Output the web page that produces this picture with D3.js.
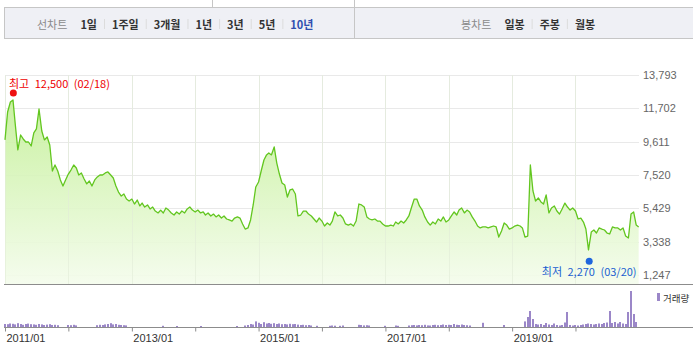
<!DOCTYPE html>
<html>
<head>
<meta charset="utf-8">
<script src="https://cdn.jsdelivr.net/npm/d3@7"></script>
<style>
  body { margin: 0; background: #fff; }
  svg { display: block; }
</style>
</head>
<body>
<div id="graph"></div>
<script>
// Closing prices, two readings a month (1st and 16th)
var closes2011 = [9720, 11470, 12100, 12230, 10720, 9090, 10030, 9780, 9590, 9590, 9340, 10160,
                  10410, 11660, 10280, 9720, 9900, 9400, 7770, 8150, 7770, 7210, 6830, 7210];
var closes2012 = [7580, 7830, 8150, 7960, 7520, 7650, 7270, 6960, 7140, 6830, 7210, 7400,
                  7520, 7520, 7650, 7710, 7520, 7330, 6830, 6450, 6200, 6330, 6010, 5890];
var closes2013 = [6010, 5700, 5950, 5580, 5760, 5510, 5640, 5390, 5510, 5260, 5140, 5320,
                  5140, 5450, 5320, 5140, 5010, 5200, 5070, 5260, 5140, 5390, 5510, 5320];
var closes2014 = [5200, 5320, 5140, 5200, 5010, 5140, 4950, 5070, 4890, 5010, 4820, 4950,
                  4760, 4700, 4630, 4820, 4890, 4820, 4450, 4130, 4200, 4700, 5640, 6770];
var closes2015 = [7080, 7770, 8460, 8780, 8900, 8780, 9280, 8270, 7580, 7020, 6890, 6140,
                  6580, 6640, 6330, 4950, 5010, 5260, 5260, 5070, 4950, 4760, 4570, 4820];
var closes2016 = [4630, 4320, 4510, 4380, 4630, 5200, 4950, 5010, 4820, 4450, 4380, 4450,
                  4320, 4630, 5700, 5640, 5510, 4890, 4760, 4700, 4760, 4630, 4630, 4450];
var closes2017 = [4320, 4320, 4380, 4320, 4570, 4450, 4630, 4510, 4700, 4950, 5510, 6010,
                  6010, 5580, 5320, 4890, 4570, 4380, 4570, 4450, 4760, 4630, 4890, 4570];
var closes2018 = [4700, 4950, 5200, 5010, 5320, 5450, 5140, 5320, 5200, 4890, 4630, 4320,
                  4200, 4260, 4260, 4200, 4260, 4320, 4260, 3630, 4010, 4510, 4380, 4130];
var closes2019 = [4200, 4320, 4380, 4320, 4200, 3630, 3690, 8150, 6520, 5890, 6080, 5830,
                  5700, 6270, 5140, 5450, 5580, 5260, 5070, 5390, 5760, 5510, 5320, 5450];
// 2020 has one extra reading: the year-end close
var closes2020 = [5260, 4760, 4820, 4570, 4130, 2820, 3940, 4070, 3880, 4200, 4130, 4070,
                  3880, 3820, 4260, 4200, 4200, 4070, 4200, 3690, 3570, 5070, 5200, 4380, 4260];

// Traded volume on the same dates (thousands of shares)
var volumes2011 = [300, 280, 350, 320, 260, 380, 300, 220, 300, 340, 280, 260,
                   220, 300, 260, 200, 240, 280, 200, 220, 180, 0, 0, 0];
var volumes2012 = [200, 180, 220, 160, 0, 0, 0, 0, 0, 0, 0, 180,
                   220, 200, 260, 300, 380, 260, 300, 220, 200, 180, 160, 0];
var volumes2013 = [0, 0, 0, 0, 0, 0, 0, 0, 0, 0, 0, 0,
                   120, 0, 0, 0, 0, 100, 0, 0, 0, 0, 0, 0];
var volumes2014 = [0, 0, 100, 0, 0, 0, 0, 0, 0, 0, 0, 0,
                   0, 0, 0, 0, 100, 0, 0, 150, 200, 300, 250, 560];
var volumes2015 = [420, 300, 480, 350, 400, 320, 380, 300, 350, 280, 300, 260,
                   320, 280, 300, 240, 200, 220, 180, 200, 150, 0, 120, 0];
var volumes2016 = [0, 0, 0, 120, 150, 130, 0, 120, 150, 0, 0, 0,
                   0, 0, 220, 200, 160, 180, 150, 0, 0, 0, 0, 0];
var volumes2017 = [120, 0, 0, 0, 150, 120, 0, 0, 0, 150, 180, 200,
                   160, 200, 180, 220, 160, 150, 200, 220, 180, 200, 250, 200];
var volumes2018 = [220, 200, 300, 220, 200, 250, 200, 180, 150, 0, 0, 0,
                   0, 420, 0, 0, 0, 0, 0, 0, 0, 200, 0, 0];
var volumes2019 = [0, 0, 0, 0, 0, 560, 1000, 1600, 800, 300, 250, 300,
                   200, 400, 250, 200, 350, 200, 150, 200, 450, 1500, 200, 150];
var volumes2020 = [200, 150, 200, 250, 300, 350, 300, 250, 300, 350, 300, 400,
                   450, 1600, 400, 500, 350, 500, 350, 300, 1500, 3600, 1300, 500, 0];

var years = [2011, 2012, 2013, 2014, 2015, 2016, 2017, 2018, 2019, 2020];
var priceTicks = [1247, 3338, 5429, 7520, 9611, 11702, 13793];
var yearLabels = ["2011/01", "2013/01", "2015/01", "2017/01", "2019/01"];

var periodTitle = "선차트";
var periodTabs = ["1일", "1주일", "3개월", "1년", "3년", "5년", "10년"];
var candleTitle = "봉차트";
var candleTabs = ["일봉", "주봉", "월봉"];

var highMark = {date: "2011-02-18", value: 12500, label: "최고 12,500 (02/18)"};
var lowMark = {date: "2020-03-20", value: 2270, label: "최저 2,270 (03/20)"};
var volumeLegend = "거래량";

var WIDTH = 693;
var HEIGHT = 350;
var PLOT_LEFT = 5;
var PLOT_RIGHT = 639;
var PRICE_BOTTOM = 284;
var VOLUME_BASE = 327;
var KR_FONT = "'Noto Sans CJK KR', sans-serif";
var NUM_FONT = "'Liberation Sans', Arial, sans-serif";

/**
 * Join the yearly arrays into one series of {date, close, volume}
 */
function build_series() {
  let closes = [closes2011, closes2012, closes2013, closes2014, closes2015,
                closes2016, closes2017, closes2018, closes2019, closes2020];
  let volumes = [volumes2011, volumes2012, volumes2013, volumes2014, volumes2015,
                 volumes2016, volumes2017, volumes2018, volumes2019, volumes2020];
  let series = [];
  years.forEach(function (year, yi) {
    closes[yi].forEach(function (close, i) {
      let date = i < 24 ? new Date(year, Math.floor(i / 2), i % 2 ? 16 : 1)
                        : new Date(year, 11, 30);
      series.push({date: date, close: close, volume: volumes[yi][i]});
    });
  });
  return series;
}

/**
 * Tab strip on top of the chart
 */
function draw_tabs(svg) {
  svg.append("rect")
     .attr("x", 4.5).attr("y", 7.5)
     .attr("width", 700).attr("height", 31)
     .attr("fill", "#eff0f5")
     .attr("stroke", "#c6c6c6");

  svg.append("line").attr("x1", 212.5).attr("x2", 212.5).attr("y1", 0).attr("y2", 7)
     .attr("stroke", "#c6c6c6");
  svg.append("line").attr("x1", 354.5).attr("x2", 354.5).attr("y1", 0).attr("y2", 38)
     .attr("stroke", "#c6c6c6");

  draw_tab_group(svg, 37, periodTitle, periodTabs, "10년");
  draw_tab_group(svg, 461, candleTitle, candleTabs, null);
}

function draw_tab_group(svg, start, title, tabs, active) {
  let cursor = start;
  let t = svg.append("text")
             .attr("x", cursor).attr("y", 23.5)
             .attr("dominant-baseline", "central")
             .style("font-family", KR_FONT)
             .style("font-size", "11px")
             .attr("fill", "#8a8a8a")
             .text(title);
  cursor += t.node().getComputedTextLength() + 13;

  tabs.forEach(function (tab, i) {
    if (i > 0) {
      svg.append("line")
         .attr("x1", cursor + 7.5).attr("x2", cursor + 7.5)
         .attr("y1", 19).attr("y2", 29)
         .attr("stroke", "#dcdcdc");
      cursor += 15;
    }
    let node = svg.append("text")
                  .attr("x", cursor).attr("y", 23.5)
                  .attr("dominant-baseline", "central")
                  .style("font-family", KR_FONT)
                  .style("font-size", "11px")
                  .style("font-weight", "bold")
                  .attr("fill", tab === active ? "#2f4fb0" : "#333")
                  .text(tab);
    cursor += node.node().getComputedTextLength();
  });
}

/**
 * Price area + line, volume bars, axes
 */
function create_chart() {
  let series = build_series();

  let svg = d3.select("#graph")
              .append("svg")
                .attr("width", WIDTH)
                .attr("height", HEIGHT);

  draw_tabs(svg);

  let xscale = d3.scaleTime()
                 .domain([new Date(2011, 0, 1), new Date(2021, 0, 1)])
                 .range([PLOT_LEFT, PLOT_RIGHT]);

  let yscale = d3.scaleLinear()
                 .domain([priceTicks[0], priceTicks[priceTicks.length - 1]])
                 .range([275, 75]);

  let vscale = d3.scaleLinear()
                 .domain([0, 4000])
                 .range([VOLUME_BASE, VOLUME_BASE - 40]);

  let yearTicks = xscale.ticks(d3.timeYear.every(1))
                        .filter(function (d) { return d < xscale.domain()[1]; });

  // Gradient for the area fill
  let grad = svg.append("defs").append("linearGradient")
                .attr("id", "priceFill")
                .attr("gradientUnits", "userSpaceOnUse")
                .attr("x1", 0).attr("x2", 0)
                .attr("y1", 75).attr("y2", PRICE_BOTTOM);
  grad.append("stop").attr("offset", "0%").attr("stop-color", "#bdee8c");
  grad.append("stop").attr("offset", "100%").attr("stop-color", "#f4fcec");

  // Grid
  svg.append("g").selectAll("line")
     .data(priceTicks)
     .enter().append("line")
       .attr("x1", PLOT_LEFT).attr("x2", PLOT_RIGHT)
       .attr("y1", function (d) { return Math.round(yscale(d)) + 0.5; })
       .attr("y2", function (d) { return Math.round(yscale(d)) + 0.5; })
       .attr("stroke", "#e9e9e9");

  svg.append("g").selectAll("line")
     .data(yearTicks)
     .enter().append("line")
       .attr("x1", function (d) { return Math.round(xscale(d)) + 0.5; })
       .attr("x2", function (d) { return Math.round(xscale(d)) + 0.5; })
       .attr("y1", 75).attr("y2", PRICE_BOTTOM)
       .attr("stroke", "#e9e9e9");

  // Price area and line
  let area = d3.area()
               .x(function (d) { return xscale(d.date); })
               .y0(PRICE_BOTTOM)
               .y1(function (d) { return yscale(d.close); });

  let line = d3.line()
               .x(function (d) { return xscale(d.date); })
               .y(function (d) { return yscale(d.close); });

  svg.append("path")
     .datum(series)
     .attr("d", area)
     .attr("fill", "url(#priceFill)")
     .attr("fill-opacity", 0.9);

  // vertical grid shows faintly through the fill
  svg.append("g").selectAll("line")
     .data(yearTicks)
     .enter().append("line")
       .attr("x1", function (d) { return Math.round(xscale(d)) + 0.5; })
       .attr("x2", function (d) { return Math.round(xscale(d)) + 0.5; })
       .attr("y1", 75).attr("y2", PRICE_BOTTOM)
       .attr("stroke", "#e2ecd8")
       .attr("stroke-opacity", 0.6);

  svg.append("path")
     .datum(series)
     .attr("d", line)
     .attr("fill", "none")
     .attr("stroke", "#62c61f")
     .attr("stroke-width", 1.3)
     .attr("stroke-linejoin", "round");

  // Right price axis
  let y_axis = d3.axisRight()
                 .scale(yscale)
                 .tickValues(priceTicks)
                 .tickFormat(d3.format(","))
                 .tickSize(0)
                 .tickPadding(4);

  let yAxisElements = svg.append("g")
                         .attr("transform", "translate(" + PLOT_RIGHT + ",0)")
                         .call(y_axis);
  yAxisElements.select(".domain").remove();
  yAxisElements.selectAll("text")
               .style("font-family", NUM_FONT)
               .style("font-size", "11px")
               .attr("fill", "#666");

  // High / low markers
  draw_marker(svg, xscale, yscale, highMark, "#ee1111", "#ee0000", -1);
  draw_marker(svg, xscale, yscale, lowMark, "#1f66dd", "#1a5fd0", 1);

  // Panel separator and volume base line
  svg.append("line").attr("x1", 4).attr("x2", WIDTH)
     .attr("y1", PRICE_BOTTOM + 0.5).attr("y2", PRICE_BOTTOM + 0.5)
     .attr("stroke", "#8c8c8c");

  // Volume bars
  svg.append("g").selectAll("rect")
     .data(series.filter(function (d) { return d.volume > 0; }))
     .enter().append("rect")
       .attr("x", function (d) { return Math.round(xscale(d.date)) - 1; })
       .attr("y", function (d) { return vscale(d.volume); })
       .attr("width", 2)
       .attr("height", function (d) { return VOLUME_BASE - vscale(d.volume); })
       .style("fill", "#9b87c8");

  // Volume legend
  svg.append("rect").attr("x", 657).attr("y", 293)
     .attr("width", 3).attr("height", 8)
     .style("fill", "#9b87c8");
  svg.append("text").attr("x", 663).attr("y", 297.5)
     .attr("dominant-baseline", "central")
     .style("font-family", KR_FONT)
     .style("font-size", "9.5px")
     .attr("fill", "#333")
     .text(volumeLegend);

  // Bottom date axis
  let fmt = d3.timeFormat("%Y/%m");
  let x_axis = d3.axisBottom()
                 .scale(xscale)
                 .tickValues(yearTicks)
                 .tickFormat(function (d) { return yearLabels.indexOf(fmt(d)) >= 0 ? fmt(d) : ""; })
                 .tickSize(4)
                 .tickPadding(3);

  let xAxisElements = svg.append("g")
                         .attr("transform", "translate(0," + (VOLUME_BASE + 0.5) + ")")
                         .call(x_axis);
  xAxisElements.select(".domain").remove();
  xAxisElements.selectAll("line").attr("stroke", "#8c8c8c");
  xAxisElements.selectAll("text")
               .attr("text-anchor", "start")
               .attr("x", 1)
               .style("font-family", NUM_FONT)
               .style("font-size", "11px")
               .attr("fill", "#333");

  svg.append("line").attr("x1", 4).attr("x2", WIDTH)
     .attr("y1", VOLUME_BASE + 0.5).attr("y2", VOLUME_BASE + 0.5)
     .attr("stroke", "#8c8c8c");
}

/**
 * Dot + label for the period high (dir -1, above) or low (dir 1, below)
 */
function draw_marker(svg, xscale, yscale, mark, dotColor, textColor, dir) {
  let cx = xscale(d3.timeParse("%Y-%m-%d")(mark.date));
  let cy = yscale(mark.value) + dir * 2.5;

  svg.append("circle")
     .attr("cx", cx).attr("cy", cy).attr("r", 3.5)
     .style("fill", dotColor);

  let label = svg.append("text")
                 .attr("y", cy + dir * 10)
                 .attr("dominant-baseline", "central")
                 .style("font-family", KR_FONT)
                 .style("font-size", "11px")
                 .style("word-spacing", "3px")
                 .attr("fill", textColor)
                 .text(mark.label);
  let w = label.node().getComputedTextLength();
  let left = Math.max(PLOT_LEFT + 4, Math.min(cx - w / 2, PLOT_RIGHT - w));
  label.attr("x", left);
}

create_chart();
</script>
</body>
</html>
